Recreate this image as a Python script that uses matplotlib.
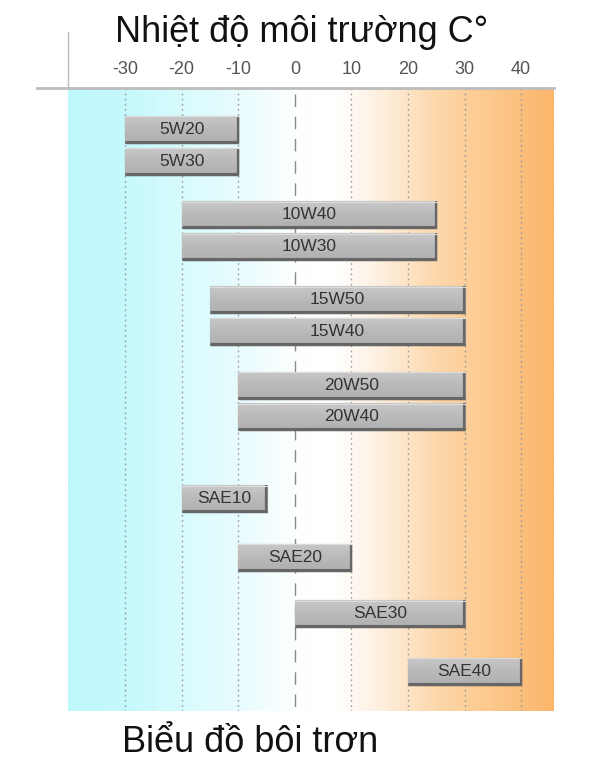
import numpy as np
import matplotlib
matplotlib.use("Agg")
import matplotlib.pyplot as plt
from matplotlib.colors import LinearSegmentedColormap

# ---- data ----
grades = ['5W20', '5W30', '10W40', '10W30', '15W50', '15W40',
          '20W50', '20W40', 'SAE10', 'SAE20', 'SAE30', 'SAE40']
t_min = [-30, -30, -20, -20, -15, -15, -10, -10, -20, -10, 0, 20]
t_max = [-10, -10, 25, 25, 30, 30, 30, 30, -5, 10, 30, 40]
ticks = [-30, -20, -10, 0, 10, 20, 30, 40]
title = 'Nhiệt độ môi trường C°'
caption = 'Biểu đồ bôi trơn'

# ---- layout (pixel-like row positions) ----
row_y = [129, 161, 214.5, 246.5, 299.5, 331, 385, 416.5, 498.5, 557, 613.5, 671]
bar_h = 27
W, H = 600, 781
ax_left, ax_right, ax_top, ax_bot = 68, 554, 88, 711
xmin, xmax = -40.1, 45.8

plt.rcParams['font.family'] = ['Liberation Sans', 'DejaVu Sans']

fig = plt.figure(figsize=(W / 100, H / 100), dpi=100)
fig.patch.set_facecolor('white')
ax = fig.add_axes([ax_left / W, 1 - ax_bot / H, (ax_right - ax_left) / W, (ax_bot - ax_top) / H])
ax.set_xlim(xmin, xmax)
ax.set_ylim(ax_bot, ax_top)
for s in ax.spines.values():
    s.set_visible(False)
ax.set_yticks([])

# background gradient
cmap = LinearSegmentedColormap.from_list('bg', [
    (0.00, '#bff8fc'),
    (0.12, '#c6f9fc'),
    (0.234, '#d8fbfd'),
    (0.35, '#e8fcfe'),
    (0.467, '#fdffff'),
    (0.548, '#ffffff'),
    (0.641, '#fef0e0'),
    (0.758, '#fdd8ac'),
    (0.874, '#fcc88c'),
    (1.00, '#fbb66a'),
])
grad = np.linspace(0, 1, 512).reshape(1, -1)
ax.imshow(grad, cmap=cmap, extent=[xmin, xmax, ax_bot, ax_top], aspect='auto', zorder=0)

# grid lines
for t in ticks:
    if t == 0:
        ax.plot([t, t], [ax_top + 6, ax_bot], color='#8a8a8a', lw=1.0,
                dashes=(9, 7), zorder=1)
    else:
        ax.plot([t, t], [ax_top, ax_bot], color='#9a9a9a', lw=1.0,
                dashes=(1.2, 2.5), zorder=1)

# tick labels above
ax.xaxis.set_ticks_position('top')
ax.set_xticks(ticks)
ax.set_xticklabels([str(t) for t in ticks], color='#555555', fontsize=13)
ax.tick_params(axis='x', length=0, pad=7)

# bars
bar_grad = np.linspace(0, 1, 64).reshape(-1, 1)
bcmap = LinearSegmentedColormap.from_list('bar', ['#c8c8c8', '#bababa', '#b0b0b0'])
for name, lo, hi, y in zip(grades, t_min, t_max, row_y):
    # shadow
    ax.barh(y + 2, hi - lo, left=lo + 0.25, height=bar_h, color='#000000', alpha=0.10,
            zorder=2, linewidth=0)
    b = ax.barh(y, hi - lo, left=lo, height=bar_h, color='#b8b8b8',
                edgecolor='#8c8c8c', linewidth=0.8, zorder=3)[0]
    im = ax.imshow(bar_grad, cmap=bcmap, extent=[lo, hi, y + bar_h / 2, y - bar_h / 2],
                   aspect='auto', zorder=3.5)
    im.set_clip_path(b)
    ax.plot([lo, hi], [y + bar_h / 2 - 1.0, y + bar_h / 2 - 1.0], color='#666666', lw=2.2,
            zorder=4, solid_capstyle='butt')
    ax.plot([hi - 0.1, hi - 0.1], [y - bar_h / 2, y + bar_h / 2], color='#666666', lw=1.6,
            zorder=4, solid_capstyle='butt')
    ax.plot([lo, hi], [y - bar_h / 2 + 0.6, y - bar_h / 2 + 0.6], color='#dcdcdc', lw=0.8,
            zorder=4)
    ax.text((lo + hi) / 2, y, name, ha='center', va='center', fontsize=12.5,
            color='#333333', zorder=5)

# decorative frame lines
fig.add_artist(plt.Line2D([37 / W, ax_right / W], [1 - ax_top / H, 1 - ax_top / H],
                          color='#bdbdbd', lw=2.0))
fig.add_artist(plt.Line2D([ax_left / W, ax_left / W], [1 - 32 / H, 1 - ax_top / H],
                          color='#bdbdbd', lw=1.0))

fig.text(302 / W, 1 - 33 / H, title, ha='center', va='center', fontsize=26, color='#111111')
fig.text(250 / W, 1 - 742 / H, caption, ha='center', va='center', fontsize=26, color='#111111')

fig.savefig('out.png', dpi=100)
